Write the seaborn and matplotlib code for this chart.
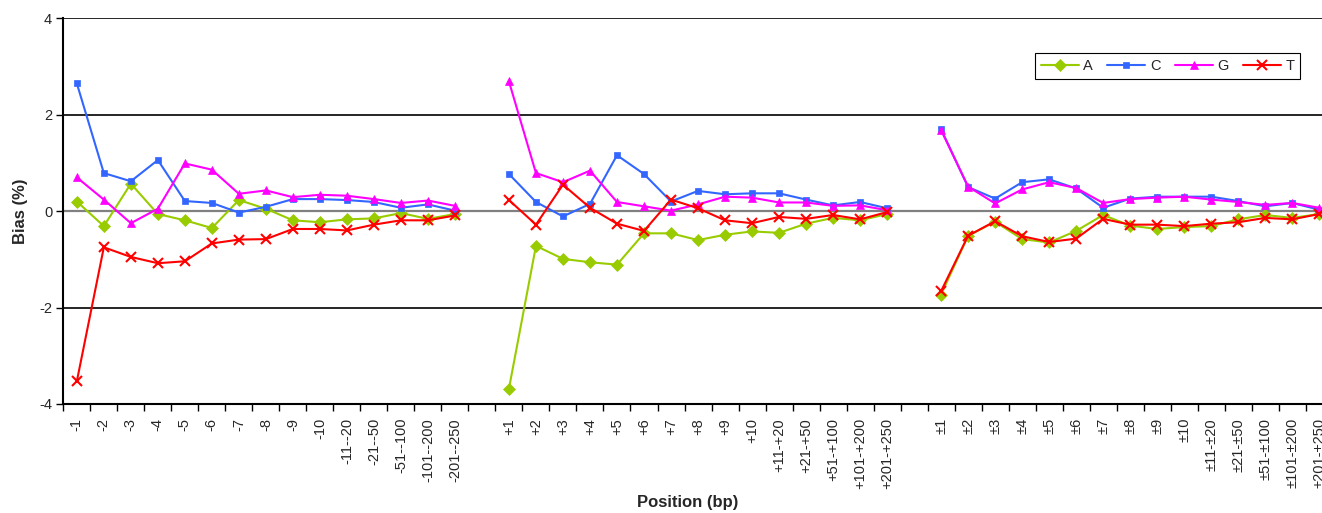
import numpy as np
import pandas as pd
import matplotlib
matplotlib.use("Agg")
import matplotlib.pyplot as plt
from matplotlib.lines import Line2D
import seaborn as sns

# Category labels for the three position groups
upstream = ["-1", "-2", "-3", "-4", "-5", "-6", "-7", "-8", "-9", "-10",
            "-11--20", "-21--50", "-51--100", "-101--200", "-201--250"]
downstream = ["+1", "+2", "+3", "+4", "+5", "+6", "+7", "+8", "+9", "+10",
              "+11-+20", "+21-+50", "+51-+100", "+101-+200", "+201-+250"]
either = ["±1", "±2", "±3", "±4", "±5", "±6", "±7", "±8", "±9", "±10",
          "±11-±20", "±21-±50", "±51-±100", "±101-±200", "±201-±250"]

# Bias (%) per base, upstream positions
up_A = [0.20, -0.31, 0.57, -0.06, -0.19, -0.35, 0.23, 0.05, -0.19, -0.23, -0.17, -0.15, -0.04, -0.16, -0.06]
up_C = [2.65, 0.79, 0.62, 1.06, 0.21, 0.17, -0.03, 0.09, 0.25, 0.25, 0.23, 0.19, 0.07, 0.14, 0.01]
up_G = [0.70, 0.24, -0.25, 0.05, 0.99, 0.86, 0.36, 0.43, 0.29, 0.34, 0.32, 0.25, 0.17, 0.22, 0.11]
up_T = [-3.53, -0.75, -0.95, -1.08, -1.04, -0.67, -0.59, -0.58, -0.37, -0.37, -0.40, -0.28, -0.19, -0.19, -0.09]

# Bias (%) per base, downstream positions
down_A = [-3.68, -0.72, -0.99, -1.06, -1.11, -0.46, -0.46, -0.60, -0.49, -0.42, -0.45, -0.26, -0.14, -0.19, -0.06]
down_C = [0.77, 0.19, -0.11, 0.15, 1.16, 0.77, 0.20, 0.42, 0.35, 0.37, 0.37, 0.24, 0.12, 0.19, 0.06]
down_G = [2.69, 0.79, 0.60, 0.84, 0.19, 0.10, 0.01, 0.14, 0.30, 0.28, 0.18, 0.18, 0.11, 0.12, 0.02]
down_T = [0.23, -0.28, 0.55, 0.07, -0.26, -0.41, 0.24, 0.06, -0.19, -0.25, -0.12, -0.16, -0.08, -0.17, -0.02]

# Bias (%) per base, combined positions
both_A = [-1.73, -0.51, -0.22, -0.58, -0.65, -0.41, -0.08, -0.30, -0.37, -0.33, -0.31, -0.17, -0.08, -0.14, -0.06]
both_C = [1.70, 0.50, 0.26, 0.60, 0.66, 0.47, 0.07, 0.26, 0.30, 0.30, 0.30, 0.21, 0.10, 0.17, 0.03]
both_G = [1.68, 0.51, 0.16, 0.45, 0.60, 0.48, 0.17, 0.25, 0.28, 0.30, 0.24, 0.19, 0.13, 0.17, 0.07]
both_T = [-1.66, -0.51, -0.21, -0.52, -0.64, -0.57, -0.16, -0.28, -0.28, -0.31, -0.26, -0.23, -0.14, -0.17, -0.06]

bases = ["A", "C", "G", "T"]
colors = {"A": "#99CC00", "C": "#3366FF", "G": "#FF00FF", "T": "#FF0000"}
markers = {"A": "D", "C": "s", "G": "^", "T": "x"}
msizes = {"A": 6.5, "C": 5.0, "G": 6.0, "T": 6.5}

groups = [upstream, downstream, either]
values = {
    "A": [up_A, down_A, both_A],
    "C": [up_C, down_C, both_C],
    "G": [up_G, down_G, both_G],
    "T": [up_T, down_T, both_T],
}

# Category axis: each group of 15 followed by one empty slot
labels = upstream + [""] + downstream + [""] + either
n_cat = len(labels)

rows = []
for base in bases:
    offset = 0
    for g, (cats, vals) in enumerate(zip(groups, values[base])):
        for i, v in enumerate(vals):
            rows.append({"base": base, "group": g, "pos": offset + i, "bias": v})
        offset += len(cats) + 1
df = pd.DataFrame(rows)

sns.set_style("white")
plt.rcParams["font.family"] = ["Liberation Sans", "DejaVu Sans"]

fig = plt.figure(figsize=(13.22, 5.13), dpi=100)
ax = fig.add_axes([0.0479, 0.2125, 0.9602, 0.7518])

# Horizontal reference lines
for yv in (4, 2, -2):
    ax.axhline(yv, color="black", lw=1.2, zorder=1)
ax.axhline(0, color="#808080", lw=1.6, zorder=1)

for base in bases:
    sub = df[df["base"] == base]
    sns.lineplot(data=sub, x="pos", y="bias", units="group", estimator=None,
                 color=colors[base], marker=markers[base], markersize=msizes[base],
                 markeredgecolor=colors[base], markeredgewidth=1.5 if base == "T" else 0.5,
                 linewidth=1.5, ax=ax, zorder=3, legend=False)

ax.set_xlim(-0.5, n_cat - 0.5)
ax.set_ylim(-4, 4)

# Tick marks on category boundaries, labels at category centres
ax.set_xticks(np.arange(n_cat + 1) - 0.5)
ax.set_xticklabels([])
ax.set_xticks(np.arange(n_cat), minor=True)
ax.set_xticklabels(labels, minor=True, rotation=90, fontsize=10.5, va="top")
ax.tick_params(axis="x", which="major", direction="out", length=5, width=1, color="black", bottom=True)
ax.tick_params(axis="x", which="minor", length=0, pad=10)

ax.set_yticks([-4, -2, 0, 2, 4])
ax.set_yticklabels(["-4", "-2", "0", "2", "4"], fontsize=10.5)
ax.tick_params(axis="y", direction="out", length=5, width=1, color="black", left=True, pad=3)

for side in ("top", "right"):
    ax.spines[side].set_visible(False)
for side in ("left", "bottom"):
    ax.spines[side].set_color("black")
    ax.spines[side].set_linewidth(1.5)

ax.set_xlabel("")
ax.set_ylabel("")
fig.text(688 / 1322, 1 - 503 / 513, "Position (bp)", ha="center", va="center",
         fontsize=12, fontweight="bold")
fig.text(21 / 1322, 1 - 211 / 513, "Bias (%)", ha="center", va="center",
         rotation=90, fontsize=12, fontweight="bold")

handles = [Line2D([0], [0], color=colors[b], marker=markers[b], markersize=msizes[b],
                  markeredgecolor=colors[b], markeredgewidth=1.5 if b == "T" else 0.5,
                  linewidth=1.5) for b in bases]
leg = ax.legend(handles, bases, loc="upper left", bbox_to_anchor=(0.7655, 0.910),
                borderaxespad=0, ncol=4, fontsize=10.5, frameon=True, fancybox=False,
                framealpha=1, edgecolor="black", handlelength=2.6, handletextpad=0.3,
                columnspacing=1.0, borderpad=0.4)
leg.get_frame().set_linewidth(0.8)

fig.savefig("out.png", dpi=100)
